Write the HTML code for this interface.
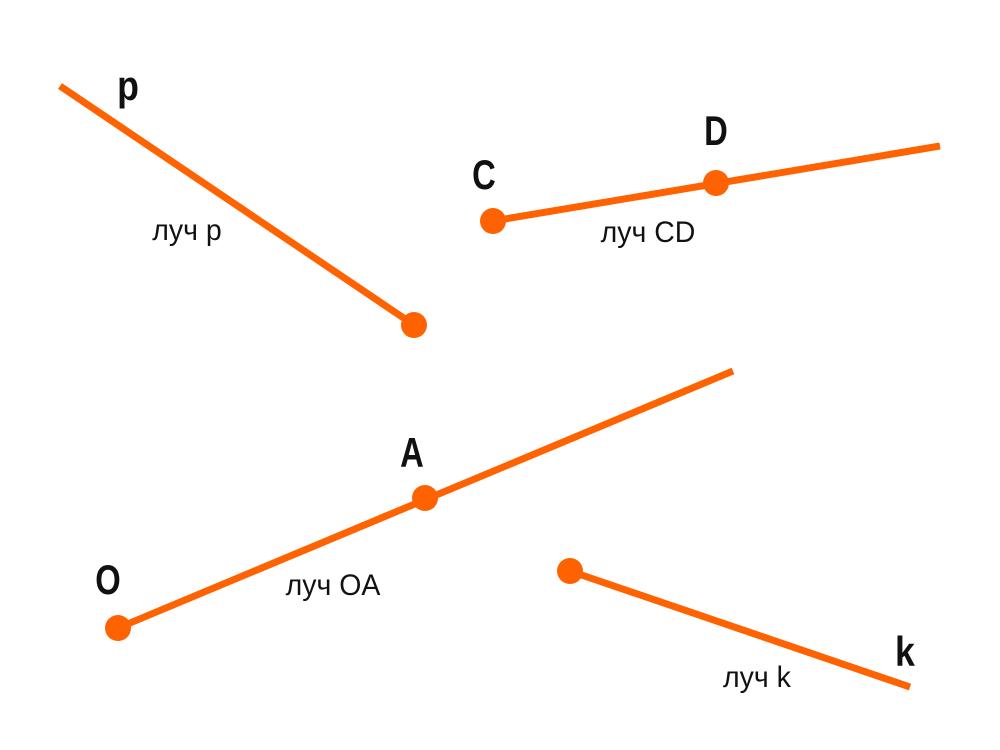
<!DOCTYPE html>
<html><head><meta charset="utf-8"><style>
html,body{margin:0;padding:0;background:#fff;}
svg{display:block;}
text{font-family:"Liberation Sans","DejaVu Sans",sans-serif;fill:#111;}
</style></head><body>
<svg width="1000" height="750" viewBox="0 0 1000 750" xmlns="http://www.w3.org/2000/svg">
<g stroke="#FF6200" stroke-width="7" stroke-linecap="butt">
<line x1="60" y1="86" x2="414" y2="325"/>
<line x1="493" y1="221" x2="940" y2="146"/>
<line x1="118" y1="628" x2="733" y2="371"/>
<line x1="570" y1="571" x2="910" y2="687"/>
</g>
<g fill="#FF6200">
<circle cx="414" cy="325" r="13"/>
<circle cx="493" cy="221" r="13"/>
<circle cx="716" cy="183" r="13"/>
<circle cx="118" cy="628" r="13"/>
<circle cx="425" cy="498" r="13"/>
<circle cx="570" cy="571" r="13"/>
</g>
<g font-size="42" text-anchor="middle" font-weight="bold">
<text x="128" y="100" transform="translate(128 0) scale(0.85 1) translate(-128 0)">p</text>
<text x="484" y="189" transform="translate(484 0) scale(0.78 1) translate(-484 0)">C</text>
<text x="716" y="145" transform="translate(716 0) scale(0.78 1) translate(-716 0)">D</text>
<text x="412" y="467" transform="translate(412 0) scale(0.78 1) translate(-412 0)">A</text>
<text x="108" y="594" transform="translate(108 0) scale(0.78 1) translate(-108 0)">O</text>
<text x="905" y="666" transform="translate(905 0) scale(0.85 1) translate(-905 0)">k</text>
</g>
<g font-size="30" text-anchor="middle">
<text x="187" y="240" transform="translate(187 0) scale(0.95 1) translate(-187 0)">луч p</text>
<text x="648" y="242" transform="translate(648 0) scale(0.95 1) translate(-648 0)">луч CD</text>
<text x="333" y="595" transform="translate(333 0) scale(0.95 1) translate(-333 0)">луч OA</text>
<text x="757" y="687" transform="translate(757 0) scale(0.95 1) translate(-757 0)">луч k</text>
</g>
</svg>
</body></html>
